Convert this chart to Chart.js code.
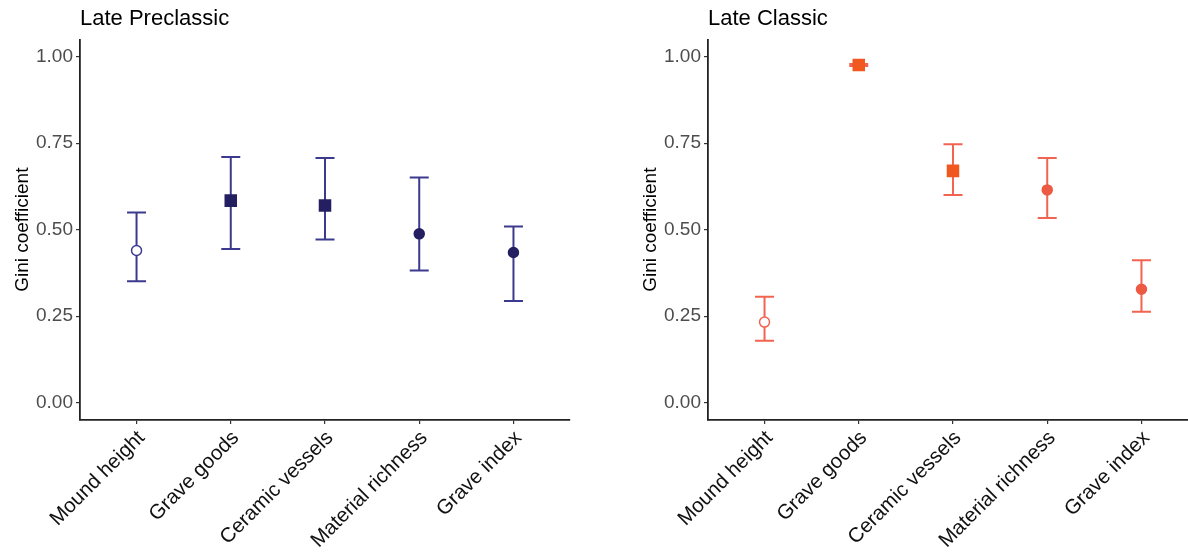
<!DOCTYPE html>
<html>
<head>
<meta charset="utf-8">
<script src="https://cdn.jsdelivr.net/npm/chart.js@4.4.1/dist/chart.umd.min.js"></script>
<style>
    html, body { margin: 0; padding: 0; background: #fff; width: 1188px; height: 553px; overflow: hidden; }
    canvas { position: absolute; top: 0; }
    #preclassic { left: 0; }
    #classic { left: 628px; }
</style>
</head>
<body>
<canvas id="preclassic" width="595" height="553"></canvas>
<canvas id="classic" width="595" height="553"></canvas>
<script>
const categories = ['Mound height', 'Grave goods', 'Ceramic vessels', 'Material richness', 'Grave index'];
const yTicks = [0, 0.25, 0.5, 0.75, 1];

// Late Preclassic: point estimate and interval ends
const preclassicGini = [0.440, 0.584, 0.570, 0.488, 0.434];
const preclassicLow = [0.351, 0.444, 0.472, 0.382, 0.294];
const preclassicHigh = [0.550, 0.710, 0.707, 0.651, 0.509];

// Late Classic
const classicGini = [0.233, 0.976, 0.670, 0.615, 0.328];
const classicLow = [0.179, 0.973, 0.600, 0.534, 0.263];
const classicHigh = [0.306, 0.979, 0.747, 0.707, 0.412];

const shapes = ['circle', 'rect', 'rect', 'circle', 'circle'];
const FONT = "'Liberation Sans', Arial, sans-serif";

// draws the whiskers under the markers
const errorBars = {
    id: 'errorBars',
    beforeDatasetsDraw(chart, args, opts) {
        const xs = chart.scales.x, ys = chart.scales.y;
        const ctx = chart.ctx;
        ctx.save();
        ctx.strokeStyle = opts.color;
        ctx.lineWidth = 2;
        opts.low.forEach((lo, i) => {
            const x = xs.getPixelForValue(i);
            const y1 = ys.getPixelForValue(lo);
            const y2 = ys.getPixelForValue(opts.high[i]);
            ctx.beginPath();
            ctx.moveTo(x, y1); ctx.lineTo(x, y2);
            ctx.moveTo(x - 9.5, y1); ctx.lineTo(x + 9.5, y1);
            ctx.moveTo(x - 9.5, y2); ctx.lineTo(x + 9.5, y2);
            ctx.stroke();
        });
        ctx.restore();
    }
};

function makePanel(id, title, values, low, high, barColor, squareColor, dotColor) {
    const fills = shapes.map((s, i) => i === 0 ? '#ffffff' : (s === 'rect' ? squareColor : dotColor));
    const borders = shapes.map((s, i) => i === 0 ? barColor : (s === 'rect' ? squareColor : dotColor));
    return new Chart(document.getElementById(id), {
        type: 'scatter',
        data: {
            datasets: [{
                data: values.map((v, i) => ({ x: i, y: v })),
                pointStyle: shapes,
                pointRadius: shapes.map(s => s === 'rect' ? 7.8 : 5),
                pointBackgroundColor: fills,
                pointBorderColor: borders,
                pointBorderWidth: 1.5,
                showLine: false
            }]
        },
        options: {
            responsive: false,
            animation: false,
            layout: { padding: { left: 0, right: 25, top: 0, bottom: 0 } },
            plugins: {
                legend: { display: false },
                tooltip: { enabled: false },
                title: {
                    display: true,
                    text: title,
                    align: 'start',
                    fullSize: false,
                    color: '#000',
                    font: { family: FONT, size: 22, weight: 'normal' },
                    padding: { top: 6, bottom: 7 }
                },
                errorBars: { low: low, high: high, color: barColor }
            },
            scales: {
                x: {
                    type: 'linear',
                    min: -0.6,
                    max: 4.6,
                    afterBuildTicks: s => { s.ticks = categories.map((c, i) => ({ value: i })); },
                    afterFit: s => { s.height = 133; },
                    ticks: {
                        autoSkip: false,
                        minRotation: 45,
                        maxRotation: 45,
                        padding: 2,
                        labelOffset: 5,
                        color: '#111',
                        font: { family: FONT, size: 20.5 },
                        callback: (v, i) => categories[i]
                    },
                    grid: { drawOnChartArea: false, drawTicks: true, tickLength: 4, color: '#333', lineWidth: 1.2 },
                    border: { display: true, color: '#222', width: 1.8 }
                },
                y: {
                    min: -0.05,
                    max: 1.05,
                    afterBuildTicks: s => { s.ticks = yTicks.map(v => ({ value: v })); },
                    afterFit: s => { s.width = 80; },
                    ticks: {
                        padding: 3,
                        color: '#4d4d4d',
                        font: { family: FONT, size: 19 },
                        callback: v => v.toFixed(2)
                    },
                    grid: { drawOnChartArea: false, drawTicks: true, tickLength: 4, color: '#333', lineWidth: 1.2 },
                    border: { display: true, color: '#222', width: 1.8 },
                    title: {
                        display: true,
                        text: 'Gini coefficient',
                        color: '#000',
                        font: { family: FONT, size: 19 },
                        padding: { top: 11, bottom: 0 }
                    }
                }
            }
        },
        plugins: [errorBars]
    });
}

makePanel('preclassic', 'Late Preclassic', preclassicGini, preclassicLow, preclassicHigh, '#3c3a8e', '#231f61', '#231f61');
makePanel('classic', 'Late Classic', classicGini, classicLow, classicHigh, '#f26350', '#f0581f', '#ec5a44');
</script>
</body>
</html>
